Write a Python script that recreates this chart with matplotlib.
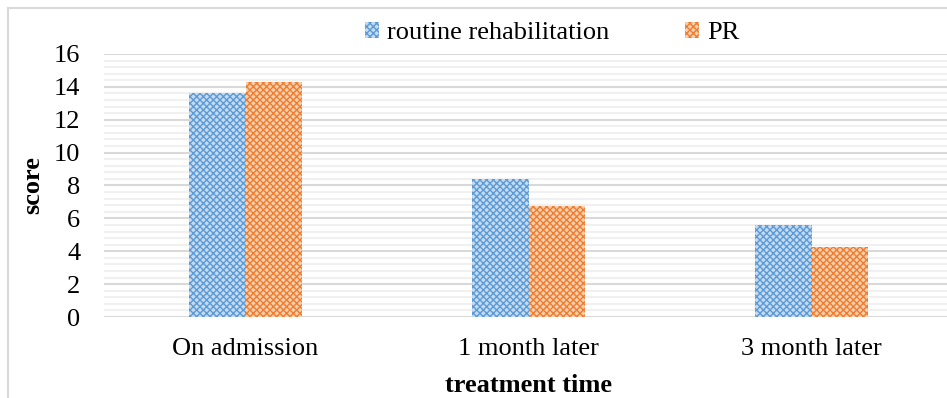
import matplotlib.pyplot as plt
import numpy as np
from matplotlib.patches import Rectangle

# data
categories = ["On admission", "1 month later", "3 month later"]
routine = [13.6, 8.4, 5.6]
pr = [14.3, 6.75, 4.25]
series_names = ["routine rehabilitation", "PR"]

plt.rcParams['font.family'] = ['Liberation Serif', 'DejaVu Serif']
plt.rcParams['hatch.linewidth'] = 1.0

W, H = 947, 398
fig = plt.figure(figsize=(W / 100, H / 100), dpi=100)
ax = fig.add_axes([104 / W, 1 - 317 / H, 849 / W, (317 - 54) / H])

x = np.arange(len(categories))
width = 0.2
b1 = ax.bar(x - width / 2, routine, width, color='#c6dbf1', edgecolor='#5b9bd5',
            hatch='xxxxx', linewidth=0, label=series_names[0], zorder=3)
b2 = ax.bar(x + width / 2, pr, width, color='#f9cfae', edgecolor='#ed7d31',
            hatch='xxxxx', linewidth=0, label=series_names[1], zorder=3)

ax.set_xlim(-0.5, len(categories) - 0.5)
ax.set_ylim(0, 16)
ax.set_yticks(np.arange(0, 17, 2))
ax.set_yticks(np.arange(0, 16.01, 0.4), minor=True)
ax.grid(axis='y', which='minor', color='#f0f0f0', linewidth=1.5, zorder=0)
ax.grid(axis='y', which='major', color='#d9d9d9', linewidth=1.5, zorder=1)
ax.tick_params(axis='both', which='both', length=0, labelsize=19)
ax.tick_params(axis='x', pad=15)
ax.tick_params(axis='y', pad=17)
ax.set_xticks(x)
ax.set_xticklabels(categories)
for s in ax.spines.values():
    s.set_visible(False)

ax.set_ylabel("score", fontsize=19, fontweight='bold', labelpad=7)
ax.set_xlabel("treatment time", fontsize=19, fontweight='bold', labelpad=10)

ax.legend(loc='upper center', bbox_to_anchor=(552 / W, 1.005), bbox_transform=fig.transFigure,
          ncol=2, frameon=False, fontsize=19, handlelength=0.55, handleheight=0.55,
          handletextpad=0.3, columnspacing=2.85)

fig.add_artist(Rectangle((8 / W, -0.1), 1.2, 1 - 8 / H + 0.1, transform=fig.transFigure,
                         fill=False, edgecolor='#d9d9d9', linewidth=1.5))

fig.savefig("out.png", dpi=100)
